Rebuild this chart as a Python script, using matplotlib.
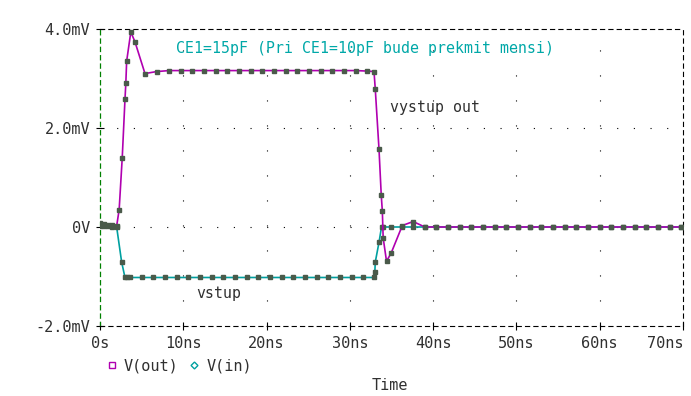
import matplotlib
matplotlib.use('Agg')
import matplotlib.pyplot as plt
from matplotlib.lines import Line2D

plt.rcParams['font.family'] = 'DejaVu Sans Mono'
plt.rcParams['lines.scale_dashes'] = False

# time in ns, voltage in mV
t_out = [0.0, 0.5, 1.0, 1.5, 2.0, 2.3, 2.67, 3.0, 3.1, 3.2, 3.7, 4.2, 5.4, 6.8, 8.3,
         9.7, 11.1, 12.5, 13.9, 15.3, 16.7, 18.1, 19.5, 20.9, 22.3, 23.7, 25.1, 26.5,
         27.9, 29.3, 30.7, 32.1, 32.9, 33.05, 33.5, 33.77, 33.9, 34.0, 34.4, 34.95,
         36.3, 37.6, 39.0, 40.4, 41.8, 43.2, 44.6, 46.0, 47.4, 48.8, 50.2, 51.6, 53.0,
         54.4, 55.8, 57.2, 58.6, 60.0, 61.4, 62.8, 64.2, 65.6, 67.0, 68.4, 69.8]
v_out = [0.08, 0.07, 0.05, 0.04, 0.02, 0.35, 1.40, 2.58, 2.90, 3.35, 3.94, 3.74, 3.10,
         3.14, 3.16, 3.16, 3.16, 3.16, 3.16, 3.16, 3.16, 3.16, 3.16, 3.16, 3.16, 3.16,
         3.16, 3.16, 3.16, 3.16, 3.16, 3.15, 3.14, 2.79, 1.57, 0.64, 0.32, -0.22, -0.69,
         -0.53, 0.03, 0.11, 0.0, 0.0, 0.0, 0.0, 0.0, 0.0, 0.0, 0.0, 0.0, 0.0, 0.0,
         0.0, 0.0, 0.0, 0.0, 0.0, 0.0, 0.0, 0.0, 0.0, 0.0, 0.0, 0.0]

t_in = [0.0, 0.5, 1.0, 1.5, 2.0, 2.6, 3.0, 3.3, 3.6, 5.0, 6.4, 7.8, 9.2, 10.6, 12.0,
        13.4, 14.8, 16.2, 17.6, 19.0, 20.4, 21.8, 23.2, 24.6, 26.0, 27.4, 28.8, 30.2,
        31.6, 32.9, 33.0, 33.05, 33.5, 33.8, 34.0, 34.95, 36.3, 37.6, 39.0, 40.4, 41.8,
        43.2, 44.6, 46.0, 47.4, 48.8, 50.2, 51.6, 53.0, 54.4, 55.8, 57.2, 58.6, 60.0,
        61.4, 62.8, 64.2, 65.6, 67.0, 68.4, 69.8]
v_in = [0.03, 0.02, 0.02, 0.01, 0.0, -0.71, -1.02, -1.02, -1.02, -1.02, -1.02, -1.02,
        -1.02, -1.02, -1.02, -1.02, -1.02, -1.02, -1.02, -1.02, -1.02, -1.02, -1.02,
        -1.02, -1.02, -1.02, -1.02, -1.02, -1.02, -1.02, -0.91, -0.71, -0.31, 0.0, 0.0,
        0.0, 0.0, 0.0, 0.0, 0.0, 0.0, 0.0, 0.0, 0.0, 0.0, 0.0, 0.0, 0.0, 0.0, 0.0, 0.0,
        0.0, 0.0, 0.0, 0.0, 0.0, 0.0, 0.0, 0.0, 0.0, 0.0]

x_ticks = [0, 10, 20, 30, 40, 50, 60, 70]
x_labels = ['0s', '10ns', '20ns', '30ns', '40ns', '50ns', '60ns', '70ns']
y_ticks = [-2, 0, 2, 4]
y_labels = ['-2.0mV', '0V', '2.0mV', '4.0mV']

OUT_C = '#b000b0'
IN_C = '#00a0a0'
MARK_C = '#4a5a4a'
TXT_C = '#303030'

fig = plt.figure(figsize=(6.91, 3.96), dpi=100)
ax = fig.add_axes([100 / 691, 1 - 326 / 396, 583 / 691, 297 / 396])

# dotted grid like the probe window
for x in x_ticks[1:-1]:
    ax.axvline(x, color='black', lw=0.8, ls=(0, (0.8, 17.2)), zorder=0)
for y in [0, 2]:
    ax.axhline(y, color='black', lw=0.8, ls=(0, (0.8, 11.2)), zorder=0)

ax.plot(t_in, v_in, color=IN_C, lw=1.2, marker='s', ms=2.2, mfc=MARK_C, mec=MARK_C, zorder=3)
ax.plot(t_out, v_out, color=OUT_C, lw=1.2, marker='s', ms=2.2, mfc=MARK_C, mec=MARK_C, zorder=4)

ax.set_xlim(0, 70)
ax.set_ylim(-2, 4)
ax.set_xticks(x_ticks)
ax.set_xticklabels(x_labels, fontsize=11, color=TXT_C)
ax.get_xticklabels()[-1].set_horizontalalignment('right')
ax.set_yticks(y_ticks)
ax.set_yticklabels(y_labels, fontsize=11, color=TXT_C)
ax.tick_params(direction='inout', length=6, width=0.8, color='black', pad=4)

for side in ['top', 'right', 'bottom']:
    ax.spines[side].set_linestyle((0, (3, 3)))
    ax.spines[side].set_linewidth(0.8)
ax.spines['left'].set_linestyle((0, (3, 3)))
ax.spines['left'].set_color('#008000')
ax.spines['left'].set_linewidth(0.9)

ax.text(9.1, 3.6, 'CE1=15pF (Pri CE1=10pF bude prekmit mensi)', color='#00a8a8',
        fontsize=10.7, va='center', ha='left')
ax.text(34.8, 2.42, 'vystup out', color=TXT_C, fontsize=10.7, va='center', ha='left')
ax.text(11.5, -1.35, 'vstup', color=TXT_C, fontsize=10.7, va='center', ha='left')

handles = [Line2D([], [], ls='none', marker='s', ms=4, mfc='none', mec=OUT_C, mew=1),
           Line2D([], [], ls='none', marker='D', ms=3.5, mfc='none', mec=IN_C, mew=1)]
fig.legend(handles, ['V(out)', 'V(in)'], ncol=2, loc='center left',
           bbox_to_anchor=(98 / 691, 1 - 366 / 396), frameon=False, fontsize=11,
           handlelength=0.8, handletextpad=0.4, columnspacing=0.6, borderpad=0,
           labelcolor=TXT_C)
fig.text(390 / 691, 1 - 386 / 396, 'Time', fontsize=11, color=TXT_C, ha='center', va='center')

fig.savefig('out.png', dpi=100)
